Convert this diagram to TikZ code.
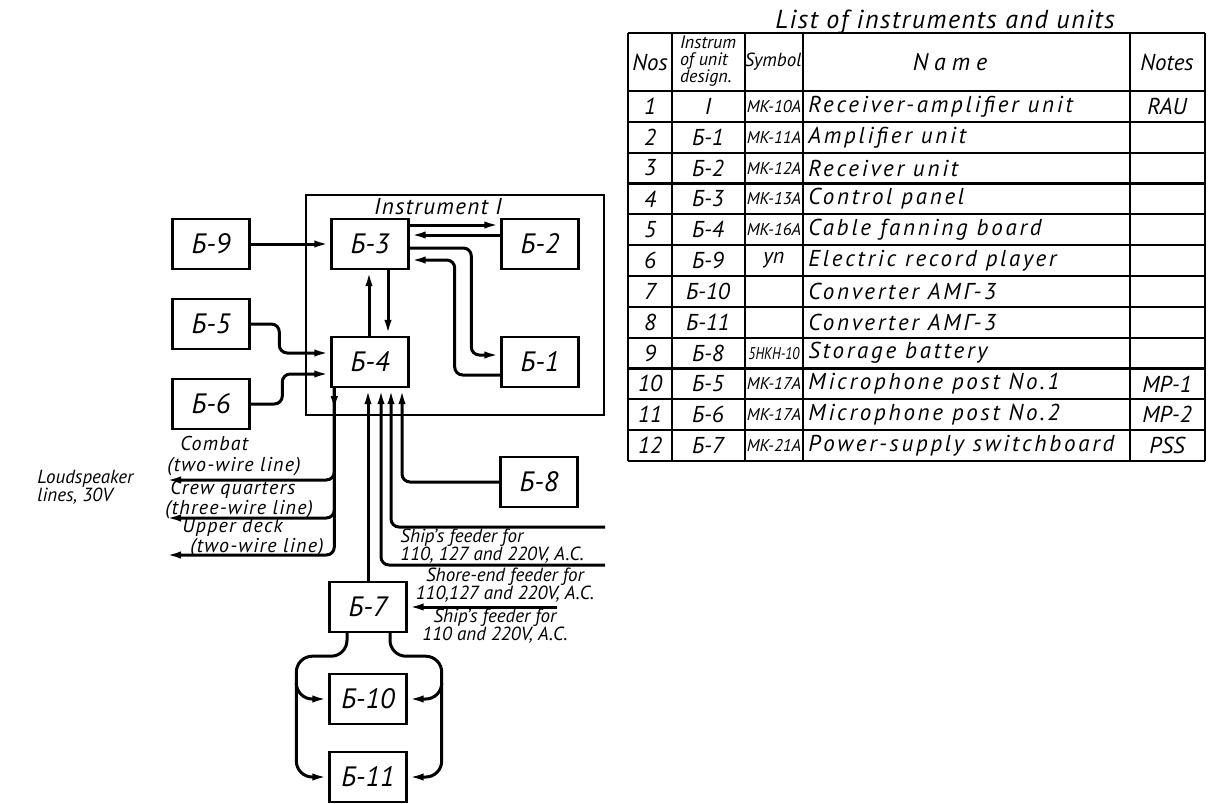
\documentclass[tikz,border=0pt]{standalone}
\usepackage{fontspec}
\setmainfont{PT Sans}
\usetikzlibrary{positioning,arrows.meta,calc}

\begin{document}
\begin{tikzpicture}[x=0.5pt,y=-0.5pt,
  unit/.style={draw,line width=1.2pt,minimum width=38.5pt,minimum height=25pt,inner sep=0pt,
    font=\fontsize{14}{14}\selectfont\itshape},
  conn/.style={line width=1.5pt,rounded corners=4pt,-{Latex[length=8pt,width=3.6pt]}},
  lab/.style={font=\fontsize{9.5}{9}\selectfont\itshape,inner sep=0pt},
  wide/.style={font={\fontsize{10}{7.5}\selectfont\itshape\addfontfeature{LetterSpace=6}},inner sep=0pt,align=left,anchor=west},
  num/.style={font=\fontsize{11.5}{12}\selectfont\itshape,inner sep=0pt},
  cell/.style={font={\fontsize{11.5}{12}\selectfont\itshape\addfontfeature{LetterSpace=12}},inner sep=0pt},
  sym/.style={font=\fontsize{8.5}{8.5}\selectfont\itshape,inner sep=0pt},
  tline/.style={line width=1.1pt}]
\useasboundingbox (0,0) rectangle (1209,803);

% instrument I frame
\draw[line width=0.8pt] (306,195) rectangle (604,415);
\node[lab,font={\fontsize{11.5}{11}\selectfont\itshape\addfontfeature{LetterSpace=6}}] (instr) at (438,207) {Instrument I};

% units of the diagram
\node[unit] (b9) at (211,244) {Б-9};
\node[unit] (b3) at (370,244) {Б-3};
\node[unit] (b2) at (540,244) {Б-2};
\node[unit] (b5) at (211,324) {Б-5};
\node[unit] (b4) at (370,362) {Б-4};
\node[unit] (b1) at (540,362) {Б-1};
\node[unit] (b6) at (211,404) {Б-6};
\node[unit] (b8) at (539,482) {Б-8};
\node[unit] (b7) at (368,607) {Б-7};
\node[unit] (b10) at (368,699) {Б-10};
\node[unit] (b11) at (368,777) {Б-11};

% links inside instrument I
\draw[conn] (b9) -- (b3);
\draw[conn] ($(b3.east)+(0,-19)$) -- ($(b2.west)+(0,-19)$);
\draw[conn] ($(b2.west)+(0,-9)$) -- ($(b3.east)+(0,-9)$);
\draw[conn] ($(b3.east)+(0,4)$) -| ($(b1.west)+(-29,-7)$) -- ($(b1.west)+(0,-7)$);
\draw[conn] ($(b1.west)+(0,13)$) -| ($(b3.east)+(45,16)$) -- ($(b3.east)+(0,16)$);
\draw[conn] ($(b4.north)+(-1,0)$) -- ($(b3.south)+(-1,0)$);
\draw[conn] ($(b3.south)+(18,0)$) -- ($(b4.north)+(18,0)$);
\draw[conn] (b5.east) -| ($(b4.west)+(-51,-9)$) -- ($(b4.west)+(0,-9)$);
\draw[conn] (b6.east) -| ($(b4.west)+(-48,12)$) -- ($(b4.west)+(0,12)$);

% loudspeaker lines
\coordinate (ls) at ($(b4.south west)+(4,0)$);
\coordinate (combat) at (165,480);
\coordinate (crew) at (165,518);
\coordinate (deck) at (165,555);
\foreach \t in {combat,crew,deck}{\draw[conn] (ls) |- (\t);}
\draw[conn] (ls) -- ++(0,24);
\node[wide,font={\fontsize{10}{10.5}\selectfont\itshape\addfontfeature{LetterSpace=6}}] (combatl) at (167,456) {\hspace*{6.5pt}Combat\\(two-wire line)};
\node[wide] (crewl) at (165,499.5) {\hspace*{2.5pt}Crew quarters\\(three-wire line)};
\node[wide] (deckl) at (182,537.5) {Upper deck\\\hspace*{4pt}(two-wire line)};
\node[lab,align=left,anchor=west] (lsl) at (37,487) {Loudspeaker\\lines, 30V};

% feeders and battery into Б-4
\coordinate (ship) at (605,527);
\coordinate (shore) at (605,565);
\coordinate (ship2) at (557,607);
\draw[conn] (b7.north) -- (b7.north |- b4.south);
\draw[conn] (shore) -| ($(b4.south)+(11,0)$);
\draw[conn] (ship) -| ($(b4.south)+(21,0)$);
\draw[conn] (b8.west) -| ($(b4.south)+(32,0)$);
\draw[conn] (ship2) -- (b7.east);
\node[lab,align=left,anchor=west] (shipl) at (400,546) {Ship's feeder for\\110, 127 and 220V, A.C.};
\node[lab,align=center] (shorel) at (505,585) {Shore-end feeder for\\110,127 and 220V, A.C.};
\node[lab,align=center] (ship2l) at (495,626) {Ship's feeder for\\110 and 220V, A.C.};

% converters below Б-7
\draw[conn,rounded corners=8pt] ($(b7.south)+(-21,0)$) -- ++(0,23) -| ($(b11.west)+(-32,0)$) -- (b11.west);
\draw[conn,rounded corners=8pt] ($(b10.west)+(-32,-16)$) |- (b10.west);
\draw[conn,rounded corners=8pt] ($(b7.south)+(22,0)$) -- ++(0,23) -| ($(b11.east)+(34,0)$) -- (b11.east);
\draw[conn,rounded corners=8pt] ($(b10.east)+(34,-16)$) |- (b10.east);

% list of instruments and units
\node[font={\fontsize{13}{13}\selectfont\itshape\addfontfeature{LetterSpace=6}}] (title) at (945,22) {List of instruments and units};
\foreach \x in {628,672,745,803,1130,1205}{\draw[tline] (\x,33) -- (\x,461);}
\draw[tline] (628,33) -- (1205,33);
\draw[tline] (628,91) -- (1205,91);
\foreach \k in {1,...,12}{\draw[tline] (628,{91+30.83*\k}) -- (1205,{91+30.83*\k});}
\node[num] (hnos) at (650,62) {Nos};
\node[sym,align=left,font=\fontsize{9}{8.5}\selectfont\itshape] (hdes) at (708,61) {Instrum\\of unit\\design.};
\node[num,font=\fontsize{9.5}{10}\selectfont\itshape] (hsym) at (773,62) {Symbol};
\node[cell,font={\fontsize{12}{12}\selectfont\itshape\addfontfeature{LetterSpace=25}}] (hname) at (950,62) {Name};
\node[num] (hnotes) at (1167,62) {Notes};
\foreach \i/\des/\sym/\nm/\nt in {1/I/MK-10A/Receiver-amplifier unit/RAU,
  2/Б-1/MK-11A/Amplifier unit/, 3/Б-2/MK-12A/Receiver unit/,
  4/Б-3/MK-13A/Control panel/, 5/Б-4/MK-16A/Cable fanning board/,
  6/Б-9/{\fontsize{11}{11}\selectfont уп}/Electric record player/, 7/Б-10//Converter АМГ-3/,
  8/Б-11//Converter АМГ-3/, 9/Б-8/{\scalebox{0.8}[1]{5НКН-10}}/Storage battery/,
  10/Б-5/MK-17A/Microphone post No.1/MP-1, 11/Б-6/MK-17A/Microphone post No.2/MP-2,
  12/Б-7/MK-21A/Power-supply switchboard/PSS}{
  \pgfmathsetmacro\ry{91+30.83*(\i-0.5)}
  \node[num] (n\i) at (650,\ry) {\i};
  \node[num] (d\i) at (708,\ry) {\des};
  \node[sym] (s\i) at (774,\ry) {\sym};
  \node[cell,anchor=west] (m\i) at (808,\ry) {\nm};
  \node[num] (t\i) at (1167,\ry) {\nt};
}
\end{tikzpicture}
\end{document}
